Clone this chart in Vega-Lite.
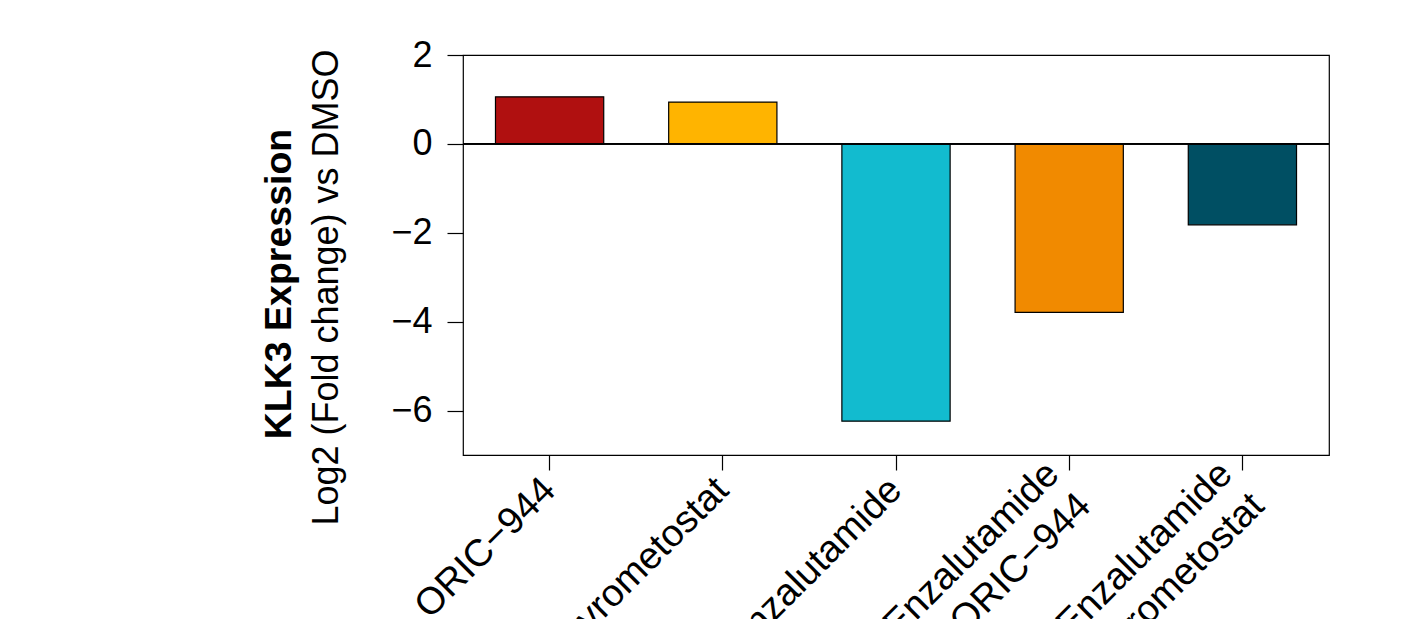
{
  "$schema": "https://vega.github.io/schema/vega-lite/v6.json",
  "width": 866,
  "height": 400,
  "autosize": {"type": "none"},
  "padding": {"left": 463, "top": 55, "right": 80, "bottom": 164},
  "background": "white",
  "config": {
    "font": "Liberation Sans",
    "view": {"stroke": "black", "strokeWidth": 1.2}
  },
  "title": {
    "text": "KLK3 Expression",
    "orient": "left",
    "anchor": "middle",
    "fontSize": 37.5,
    "fontWeight": "bold",
    "color": "black",
    "font": "Liberation Sans",
    "offset": 10,
    "dx": -29
  },
  "data": {
    "values": [
      {"treatment": "ORIC−944", "value": 1.06},
      {"treatment": "Mevrometostat", "value": 0.94},
      {"treatment": "Enzalutamide", "value": -6.24},
      {"treatment": "Enzalutamide|+ ORIC−944", "value": -3.79},
      {"treatment": "Enzalutamide|+ Mevrometostat", "value": -1.82}
    ]
  },
  "layer": [
    {
      "mark": {"type": "bar", "stroke": "black", "strokeWidth": 1.2},
      "encoding": {
        "x": {
          "field": "treatment",
          "type": "nominal",
          "sort": null,
          "scale": {"paddingInner": 0.375, "paddingOuter": 0.1875},
          "axis": {
            "title": null,
            "domain": false,
            "labelAngle": -45,
            "labelAlign": "right",
            "labelBaseline": "middle",
            "labelFontSize": 38,
            "labelColor": "black",
            "labelLineHeight": 45,
            "labelPadding": {"condition": {"test": "indexof(datum.value, '|') >= 0", "value": -2}, "value": 14},
            "labelOffset": {"condition": {"test": "indexof(datum.value, '|') >= 0", "value": -16}, "value": 0},
            "labelOverlap": false,
            "labelLimit": 0,
            "labelExpr": "split(datum.label, '|')",
            "tickSize": 15,
            "tickColor": "black",
            "tickWidth": 1.2
          }
        },
        "y": {
          "field": "value",
          "type": "quantitative",
          "scale": {"domain": [-7, 2], "nice": false, "zero": false},
          "axis": {
            "title": "Log2 (Fold change) vs DMSO",
            "values": [2, 0, -2, -4, -6],
            "domain": false,
            "grid": false,
            "tickSize": 16,
            "tickColor": "black",
            "tickWidth": 1.2,
            "labelFontSize": 36,
            "labelColor": "black",
            "labelPadding": 15,
            "titleFontSize": 36,
            "titleFontWeight": "normal",
            "titleColor": "black",
            "titleX": -126,
            "titleY": 232,
            "titleBaseline": "alphabetic",
            "titleAlign": "center",
            "titleAngle": -90
          }
        },
        "color": {
          "field": "treatment",
          "type": "nominal",
          "scale": {
            "domain": ["ORIC−944", "Mevrometostat", "Enzalutamide", "Enzalutamide|+ ORIC−944", "Enzalutamide|+ Mevrometostat"],
            "range": ["#B01010", "#FFB400", "#12BBCF", "#F18A00", "#004F63"]
          },
          "legend": null
        }
      }
    },
    {
      "mark": {"type": "rule", "color": "black", "strokeWidth": 1.2},
      "encoding": {"y": {"datum": 0}}
    }
  ]
}
